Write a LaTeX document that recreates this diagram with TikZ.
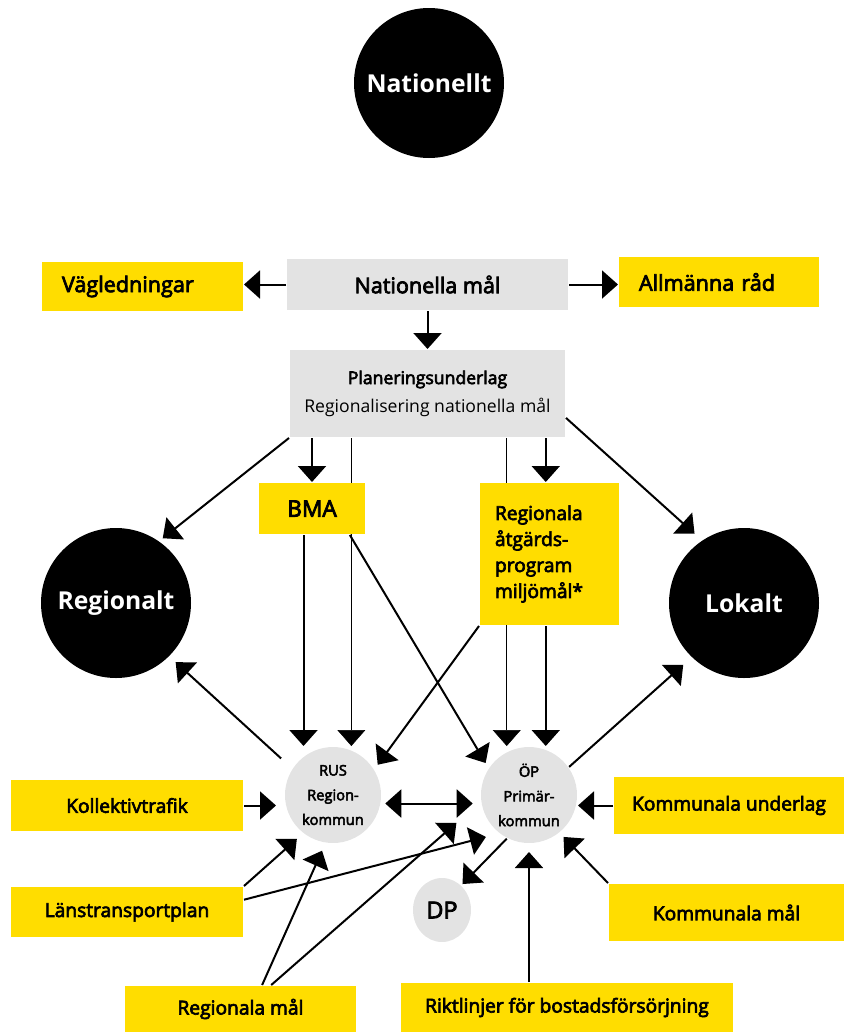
\documentclass[tikz,border=0pt]{standalone}
\usepackage{fontspec}
\setmainfont{Open Sans}
\newfontfamily\semib{Open Sans}[FakeBold=3.5]
\usetikzlibrary{arrows.meta,backgrounds,positioning,shapes.geometric}

\definecolor{gul}{RGB}{255,221,0}
\definecolor{gra}{RGB}{227,227,227}

\begin{document}
\begin{tikzpicture}[x=0.75pt,y=-0.75pt,->,>={Triangle[length=12pt,width=21pt]},line width=1.5pt]
  \tikzstyle{gulbox}=[fill=gul,inner sep=0pt,font=\semib\fontsize{14.4}{17}\selectfont]
  \tikzstyle{grabox}=[fill=gra,inner sep=0pt]
  \tikzstyle{svart}=[circle,fill=black,text=white,minimum size=112.5pt,inner sep=0pt,font=\bfseries\fontsize{18.5}{22}\selectfont]
  \tikzstyle{grarund}=[circle,fill=gra,minimum size=72pt,inner sep=0pt,align=center,font=\semib\fontsize{11}{18.5}\selectfont]

  \useasboundingbox (0,0) rectangle (844,1032);

  \node[svart] (nat) at (429,83) {Nationellt};

  \node[grabox,minimum width=210.75pt,minimum height=38.25pt,font=\semib\fontsize{16.2}{19}\selectfont] (np) at (427.5,284.5) {Nationella mål};
  \node[gulbox,minimum width=150.75pt,minimum height=36.75pt,text width=120.75pt,align=left,font=\semib\fontsize{16.2}{19}\selectfont] (vag) at (142.5,286.5) {Vägledningar};
  \node[gulbox,minimum width=150pt,minimum height=37.5pt,text width=120pt,align=left,font=\semib\fontsize{16.2}{19}\selectfont] (all) at (719,282) {Allmänna råd};
  \node[grabox,minimum width=206.25pt,minimum height=65.25pt,align=center,font=\fontsize{13.2}{21}\selectfont] (pu) at (427.5,393.5) {{\semib Planeringsunderlag}\\Regionalisering nationella mål};

  \node[gulbox,minimum width=79.5pt,minimum height=38.25pt,font=\semib\fontsize{17}{20}\selectfont] (bma) at (312,508.5) {BMA};
  \node[gulbox,minimum width=104.25pt,minimum height=106.5pt,text width=81.75pt,align=left,font=\semib\fontsize{14.4}{19.5}\selectfont] (ra) at (549.5,554) {Regionala\\åtgärds-\\program\\miljömål*};

  \node[svart] (reg) at (116,603) {Regionalt};
  \node[svart] (lok) at (744,603) {Lokalt};

  \node[grarund] (rus) at (333,795) {RUS\\Region-\\kommun};
  \node[grarund] (op) at (529,795) {ÖP\\Primär-\\kommun};
  \node[ellipse,fill=gra,minimum width=43.5pt,minimum height=48pt,inner sep=0pt,font=\semib\fontsize{17.5}{20}\selectfont] (dp) at (442,910) {DP};

  \node[gulbox,minimum width=174pt,minimum height=38.25pt] (kol) at (127,805.5) {Kollektivtrafik};
  \node[gulbox,minimum width=172.5pt,minimum height=42.75pt] (ku) at (729,805.5) {Kommunala underlag};
  \node[gulbox,minimum width=174pt,minimum height=37.5pt] (lan) at (127,912) {Länstransportplan};
  \node[gulbox,minimum width=176.25pt,minimum height=42.75pt] (km) at (726.5,912.5) {Kommunala mål};
  \node[gulbox,minimum width=173.25pt,minimum height=34.5pt] (rm) at (240.5,1009) {Regionala mål};
  \node[gulbox,minimum width=249pt,minimum height=36.75pt] (ri) at (567,1007.5) {Riktlinjer för bostadsförsörjning};

  \path
  (np.west) edge (np.west -| vag.east)
  (np.east) edge (np.east -| all.west)
  (np) edge (pu)
  (pu.south -| bma.north) edge (bma.north)
  (pu.south -| op.70) edge (ra.north -| op.70)
  (pu.south west) edge[shorten >=3pt] (reg.55)
  (pu.-10) edge[shorten >=7pt] (lok.124)
  (bma.south -| rus.127) edge (rus.north -| rus.127)
  (bma.-35) edge[shorten >=4pt] (op.146)
  (ra.south -| op.70) edge (op.north -| op.70)
  (ra.south west) edge[shorten >=4pt] (rus.32)
  (rus.147) edge[shorten <=11pt,shorten >=6pt] (reg.-45)
  (op.35) edge[shorten >=8pt] (lok.226)
  (rus.-10) edge[<->,shorten <=3pt,shorten >=6pt] (op.190)
  (op.243) edge[shorten >=1pt] (dp.52)
  (kol.east) edge[shorten >=6pt] (kol.east -| rus.west)
  (ku.west) edge (ku.west -| op.east)
  (lan.north east) edge[shorten >=6pt] (rus.232)
  (lan.6) edge[shorten >=10pt] (op.232)
  (rm.48) edge[shorten >=6pt] (rus.261)
  (rm.38) edge[shorten >=24pt] (op.188)
  (ri.north -| op.south) edge[shorten >=6pt] (op.south)
  (km.north west) edge[shorten >=4pt] (op.-51);

  \begin{pgfonlayer}{background}
    \path
    (pu.south -| rus.68) edge (rus.north -| rus.68)
    (pu.south -| op.117) edge (op.north -| op.117);
  \end{pgfonlayer}
\end{tikzpicture}
\end{document}
